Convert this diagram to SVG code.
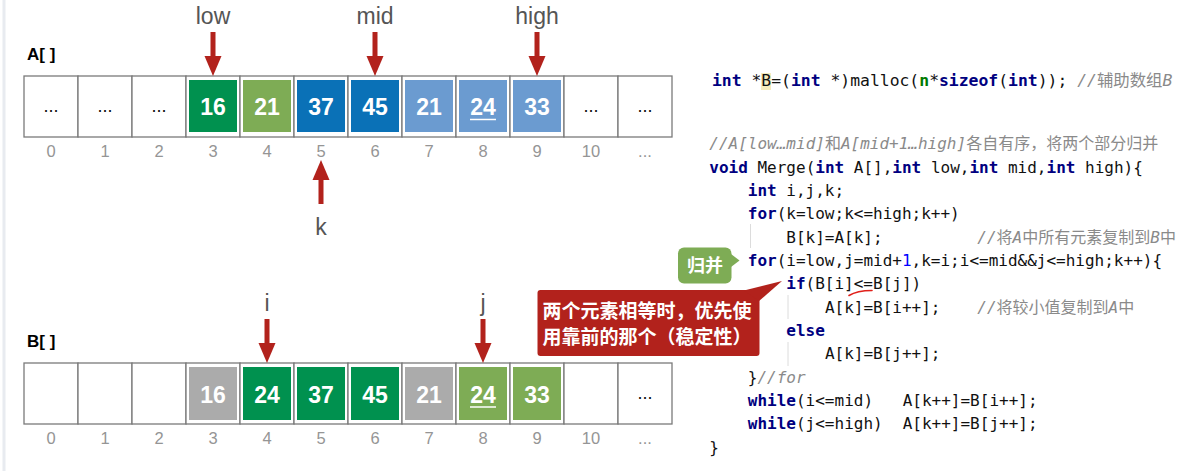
<svg xmlns="http://www.w3.org/2000/svg" width="1197" height="471" viewBox="0 0 1197 471">
<style>
.cell{fill:#fff;stroke:#7a7a7a;stroke-width:1.3}
.num{font-family:"Liberation Sans",Arial,sans-serif;font-size:23px;font-weight:bold;fill:#fff;text-anchor:middle}
.dots{font-family:"Liberation Sans",Arial,sans-serif;font-size:18px;fill:#111;text-anchor:middle}
.idx{font-family:"Liberation Sans",Arial,sans-serif;font-size:16.5px;fill:#959595;text-anchor:middle}
.lbl{font-family:"Liberation Sans",Arial,sans-serif;font-size:23px;fill:#555;text-anchor:middle}
.arr{font-family:"Liberation Sans",Arial,sans-serif;font-size:17px;font-weight:bold;fill:#000}
.dg{fill:#00914f}.og{fill:#7eac55}.bl{fill:#0a71b7}.lb{fill:#6b9bd0}.gr{fill:#ababab}
.ul{stroke:#fff;stroke-width:1.5}
.code{font-family:"DejaVu Sans Mono","Noto Sans CJK SC",monospace;font-size:16px;fill:#111;white-space:pre}
.kw{fill:#000080;font-weight:bold}
.gn{fill:#007a00;font-weight:bold}
.nb{fill:#0000ff}
.cm{fill:#8a8a8a;font-style:italic}
.cc{fill:#8a8a8a;font-family:"Noto Sans CJK SC",sans-serif}
.guide{stroke:#dcdcdc;stroke-width:1}
.red{fill:#b2221c}
.ctext{font-family:"Noto Sans CJK SC","Liberation Sans",sans-serif;font-weight:bold;fill:#fff}
</style>
<defs>
<g id="adown"><rect x="-2.5" y="0" width="5" height="25" fill="#b2221c"/><polygon points="-8.5,24 8.5,24 0,44" fill="#b2221c"/></g>
</defs>
<line x1="4" y1="0" x2="4" y2="471" stroke="#e8ebf0" stroke-width="3"/>

<g id="arrayA">
<text class="arr" x="27" y="60">A[ ]</text>
<g id="A0"><rect class="cell" x="24" y="76" width="54" height="61"/><text class="dots" x="51" y="112">...</text><text class="idx" x="51" y="157">0</text></g>
<g id="A1"><rect class="cell" x="78" y="76" width="54" height="61"/><text class="dots" x="105" y="112">...</text><text class="idx" x="105" y="157">1</text></g>
<g id="A2"><rect class="cell" x="132" y="76" width="54" height="61"/><text class="dots" x="159" y="112">...</text><text class="idx" x="159" y="157">2</text></g>
<g id="A3"><rect class="cell" x="186" y="76" width="54" height="61"/><rect class="dg" x="189" y="80" width="48" height="52"/><text class="num" x="213" y="115">16</text><text class="idx" x="213" y="157">3</text></g>
<g id="A4"><rect class="cell" x="240" y="76" width="54" height="61"/><rect class="og" x="243" y="80" width="48" height="52"/><text class="num" x="267" y="115">21</text><text class="idx" x="267" y="157">4</text></g>
<g id="A5"><rect class="cell" x="294" y="76" width="54" height="61"/><rect class="bl" x="297" y="80" width="48" height="52"/><text class="num" x="321" y="115">37</text><text class="idx" x="321" y="157">5</text></g>
<g id="A6"><rect class="cell" x="348" y="76" width="54" height="61"/><rect class="bl" x="351" y="80" width="48" height="52"/><text class="num" x="375" y="115">45</text><text class="idx" x="375" y="157">6</text></g>
<g id="A7"><rect class="cell" x="402" y="76" width="54" height="61"/><rect class="lb" x="405" y="80" width="48" height="52"/><text class="num" x="429" y="115">21</text><text class="idx" x="429" y="157">7</text></g>
<g id="A8"><rect class="cell" x="456" y="76" width="54" height="61"/><rect class="lb" x="459" y="80" width="48" height="52"/><text class="num" x="483" y="115">24</text><line class="ul" x1="470" y1="119.5" x2="496" y2="119.5"/><text class="idx" x="483" y="157">8</text></g>
<g id="A9"><rect class="cell" x="510" y="76" width="54" height="61"/><rect class="lb" x="513" y="80" width="48" height="52"/><text class="num" x="537" y="115">33</text><text class="idx" x="537" y="157">9</text></g>
<g id="A10"><rect class="cell" x="564" y="76" width="54" height="61"/><text class="dots" x="591" y="112">...</text><text class="idx" x="591" y="157">10</text></g>
<g id="A11"><rect class="cell" x="618" y="76" width="54" height="61"/><text class="dots" x="645" y="112">...</text><text class="idx" x="645" y="157">...</text></g>
</g>

<g id="arrayB">
<text class="arr" x="27" y="347">B[ ]</text>
<g id="B0"><rect class="cell" x="24" y="363" width="54" height="61"/><text class="idx" x="51" y="444">0</text></g>
<g id="B1"><rect class="cell" x="78" y="363" width="54" height="61"/><text class="idx" x="105" y="444">1</text></g>
<g id="B2"><rect class="cell" x="132" y="363" width="54" height="61"/><text class="idx" x="159" y="444">2</text></g>
<g id="B3"><rect class="cell" x="186" y="363" width="54" height="61"/><rect class="gr" x="189" y="367" width="48" height="53"/><text class="num" x="213" y="403">16</text><text class="idx" x="213" y="444">3</text></g>
<g id="B4"><rect class="cell" x="240" y="363" width="54" height="61"/><rect class="dg" x="243" y="367" width="48" height="53"/><text class="num" x="267" y="403">24</text><text class="idx" x="267" y="444">4</text></g>
<g id="B5"><rect class="cell" x="294" y="363" width="54" height="61"/><rect class="dg" x="297" y="367" width="48" height="53"/><text class="num" x="321" y="403">37</text><text class="idx" x="321" y="444">5</text></g>
<g id="B6"><rect class="cell" x="348" y="363" width="54" height="61"/><rect class="dg" x="351" y="367" width="48" height="53"/><text class="num" x="375" y="403">45</text><text class="idx" x="375" y="444">6</text></g>
<g id="B7"><rect class="cell" x="402" y="363" width="54" height="61"/><rect class="gr" x="405" y="367" width="48" height="53"/><text class="num" x="429" y="403">21</text><text class="idx" x="429" y="444">7</text></g>
<g id="B8"><rect class="cell" x="456" y="363" width="54" height="61"/><rect class="og" x="459" y="367" width="48" height="53"/><text class="num" x="483" y="403">24</text><line class="ul" x1="470" y1="407" x2="496" y2="407"/><text class="idx" x="483" y="444">8</text></g>
<g id="B9"><rect class="cell" x="510" y="363" width="54" height="61"/><rect class="og" x="513" y="367" width="48" height="53"/><text class="num" x="537" y="403">33</text><text class="idx" x="537" y="444">9</text></g>
<g id="B10"><rect class="cell" x="564" y="363" width="54" height="61"/><text class="idx" x="591" y="444">10</text></g>
<g id="B11"><rect class="cell" x="618" y="363" width="54" height="61"/><text class="dots" x="645" y="399">...</text><text class="idx" x="645" y="444">...</text></g>
</g>

<g id="pointers">
<text class="lbl" x="213" y="24">low</text>
<text class="lbl" x="375" y="24">mid</text>
<text class="lbl" x="537" y="24">high</text>
<text class="lbl" x="321" y="235">k</text>
<text class="lbl" x="267" y="311">i</text>
<text class="lbl" x="483" y="311">j</text>
</g>

<g id="connectors">
<use href="#adown" x="213" y="32"/>
<use href="#adown" x="375" y="32"/>
<use href="#adown" x="537" y="32"/>
<use href="#adown" transform="translate(321,204) scale(1,-1)"/>
<use href="#adown" x="267" y="319"/>
<use href="#adown" x="483" y="319"/>
</g>

<g id="code" class="code">
<rect x="761" y="73" width="10" height="17" fill="#f6ebbd"/>
<text xml:space="preserve" x="712" y="86" style="font-size:16.4px"><tspan class="kw">int</tspan> *B=(<tspan class="kw">int</tspan> *)malloc(<tspan class="gn">n</tspan>*<tspan class="kw">sizeof</tspan>(<tspan class="kw">int</tspan>)); <tspan class="cm">//</tspan><tspan class="cc">辅助数组</tspan><tspan class="cm">B</tspan></text>
<text x="709.3" y="149.3"><tspan class="cm">//A[low…mid]</tspan><tspan class="cc">和</tspan><tspan class="cm">A[mid+1…high]</tspan><tspan class="cc">各自有序，将两个部分归并</tspan></text>
<text xml:space="preserve" x="709.3" y="172.7"><tspan class="kw">void</tspan> Merge(<tspan class="kw">int</tspan> A[],<tspan class="kw">int</tspan> low,<tspan class="kw">int</tspan> mid,<tspan class="kw">int</tspan> high){</text>
<text xml:space="preserve" x="747.8" y="196"><tspan class="kw">int</tspan> i,j,k;</text>
<text x="747.8" y="219.3"><tspan class="kw">for</tspan>(k=low;k&lt;=high;k++)</text>
<text x="786.3" y="242.7">B[k]=A[k];</text>
<text x="977.3" y="242.7"><tspan class="cm">//</tspan><tspan class="cc">将</tspan><tspan class="cm">A</tspan><tspan class="cc">中所有元素复制到</tspan><tspan class="cm">B</tspan><tspan class="cc">中</tspan></text>
<text x="747.8" y="266"><tspan class="kw">for</tspan>(i=low,j=mid+<tspan class="nb">1</tspan>,k=i;i&lt;=mid&amp;&amp;j&lt;=high;k++){</text>
<text x="786.3" y="289.3"><tspan class="kw">if</tspan>(B[i]&lt;=B[j])</text>
<text x="824.9" y="312.7">A[k]=B[i++];</text>
<text x="977.3" y="312.7"><tspan class="cm">//</tspan><tspan class="cc">将较小值复制到</tspan><tspan class="cm">A</tspan><tspan class="cc">中</tspan></text>
<text x="786.3" y="336"><tspan class="kw">else</tspan></text>
<text x="824.9" y="359.3">A[k]=B[j++];</text>
<text x="747.8" y="382.7">}<tspan class="cm">//for</tspan></text>
<text x="747.8" y="406"><tspan class="kw">while</tspan>(i&lt;=mid)<tspan x="902.7">A[k++]=B[i++];</tspan></text>
<text x="747.8" y="429.3"><tspan class="kw">while</tspan>(j&lt;=high)<tspan x="902.7">A[k++]=B[j++];</tspan></text>
<text x="709.3" y="452.7">}</text>
<line class="guide" x1="750.5" y1="224" x2="750.5" y2="248"/>
<line class="guide" x1="788" y1="295" x2="788" y2="319"/>
<line class="guide" x1="788" y1="342" x2="788" y2="366"/>
<path d="M849,295.5 Q857,290.5 872,290.5" fill="none" stroke="#e0201a" stroke-width="1.6" stroke-linecap="round"/>
</g>

<g id="callout-merge">
<rect x="678" y="247.5" width="53.5" height="36" rx="6" class="og"/>
<polygon points="731,254 739.5,260.5 731,267" class="og"/>
<text class="ctext" x="705" y="271.5" font-size="18" text-anchor="middle">归并</text>
</g>

<g id="callout-stable">
<rect x="537.5" y="290" width="222" height="66" rx="3" class="red"/>
<polygon points="744,290.5 782,281 759,301" class="red"/>
<text class="ctext" x="542.5" y="318" font-size="19">两个元素相等时，优先使</text>
<text class="ctext" x="542.5" y="343.5" font-size="19">用靠前的那个（稳定性）</text>
</g>
</svg>
